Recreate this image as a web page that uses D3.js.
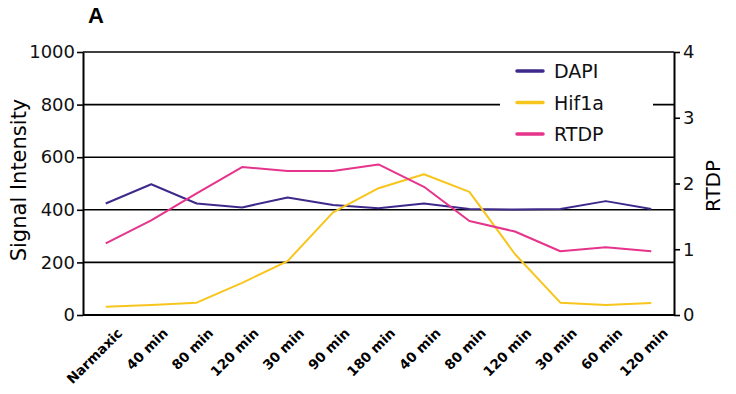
<!DOCTYPE html>
<head>
<meta charset="utf-8">
<style>
body{margin:0;background:#fff;}
text{font-family:"DejaVu Sans",Verdana,sans-serif;}
.line{fill:none;stroke-width:2;stroke-linejoin:round;}
</style>
</head>
<body>
<svg width="736" height="394"></svg>
<script src="https://d3js.org/d3.v7.min.js"></script>
<script>

// data
var categories = ["Narmaxic","40 min","80 min","120 min","30 min","90 min","180 min","40 min","80 min","120 min","30 min","60 min","120 min"];
var dapi = [424,497,424,409,447,418,406,424,403,401,403,433,403];
var hif1a = [31,38,47,122,205,390,482,535,468,232,47,38,46];
var rtdp = [1.09,1.44,1.85,2.25,2.19,2.19,2.29,1.95,1.43,1.27,0.97,1.03,0.97];
var leftTicks = [0,200,400,600,800,1000];
var rightTicks = [0,1,2,3,4];

var svg = d3.select("svg");
var mLeft = 83, mRight = 674, mTop = 52, mBottom = 315;

// categories repeat so index them
var x = d3.scalePoint()
  .domain(d3.range(categories.length))
  .range([mLeft, mRight])
  .padding(0.5);

var yL = d3.scaleLinear().domain([0,1000]).range([mBottom, mTop]);
var yR = d3.scaleLinear().domain([0,4]).range([mBottom, mTop]);

// grid lines
svg.append("g")
  .selectAll("line")
  .data(leftTicks.slice(1))
  .enter().append("line")
  .attr("x1", mLeft).attr("x2", mRight)
  .attr("y1", yL).attr("y2", yL)
  .attr("stroke", "#000")
  .attr("stroke-width", 1.6);

// lines
var series = [
  {name:"DAPI", values:dapi, color:"#3f2a8c", y:yL},
  {name:"Hif1a", values:hif1a, color:"#f8c51c", y:yL},
  {name:"RTDP", values:rtdp, color:"#e6338b", y:yR}
];

series.forEach(function(s){
  var line = d3.line()
    .x(function(d,i){ return x(i); })
    .y(function(d){ return s.y(d); });
  svg.append("path")
    .datum(s.values)
    .attr("class","line")
    .attr("stroke", s.color)
    .attr("d", line);
});

// left axis
var gl = svg.append("g")
  .attr("transform","translate(" + mLeft + ",0)")
  .call(d3.axisLeft(yL).tickValues(leftTicks).tickFormat(d3.format("d")).tickSize(6).tickPadding(2).tickSizeOuter(0));
gl.select(".domain").attr("stroke-width",2);
gl.selectAll(".tick line").attr("stroke-width",1.6);
gl.selectAll("text").style("font-size","18px").attr("fill","#111");

// right axis
var gr = svg.append("g")
  .attr("transform","translate(" + mRight + ",0)")
  .call(d3.axisRight(yR).tickValues(rightTicks).tickFormat(d3.format("d")).tickSize(6).tickPadding(3).tickSizeOuter(0));
gr.select(".domain").attr("stroke-width",2);
gr.selectAll(".tick line").attr("stroke-width",1.6);
gr.selectAll("text").style("font-size","18px").attr("fill","#111");

// bottom axis
var gb = svg.append("g")
  .attr("transform","translate(0," + mBottom + ")")
  .call(d3.axisBottom(x).tickSize(0).tickSizeOuter(0).tickFormat(function(i){ return categories[i]; }));
gb.select(".domain").attr("stroke-width",2).attr("d","M" + mLeft + ",0H" + mRight);
gb.selectAll("text")
  .style("font-size","13.5px")
  .style("font-weight","bold")
  .style("text-anchor","end")
  .attr("fill","#000")
  .attr("dy",null)
  .attr("y",0)
  .attr("transform","translate(17,19) rotate(-45)");

// axis titles
svg.append("text")
  .attr("transform","translate(26,180) rotate(-90)")
  .attr("text-anchor","middle")
  .style("font-size","21px")
  .text("Signal Intensity");

svg.append("text")
  .attr("transform","translate(720,186) rotate(-90)")
  .attr("text-anchor","middle")
  .style("font-size","20px")
  .text("RTDP");

svg.append("text")
  .attr("x",88).attr("y",23)
  .style("font-size","22px")
  .style("font-weight","bold")
  .style("font-family","Arial, 'Liberation Sans', sans-serif")
  .text("A");

// legend
var lg = svg.append("g");
lg.append("rect")
  .attr("x",500).attr("y",58).attr("width",153).attr("height",90)
  .attr("fill","#fff");

var item = lg.selectAll(".legend")
  .data(series)
  .enter().append("g")
  .attr("class","legend")
  .attr("transform", function(d,i){ return "translate(517," + (71 + i*31.5) + ")"; });

item.append("line")
  .attr("x1",0).attr("x2",26)
  .attr("stroke", function(d){ return d.color; })
  .attr("stroke-width",3.5)
  .attr("stroke-linecap","round");

item.append("text")
  .attr("x",37).attr("y",7)
  .style("font-size","19px")
  .attr("fill","#111")
  .text(function(d){ return d.name; });

</script>
</body>
